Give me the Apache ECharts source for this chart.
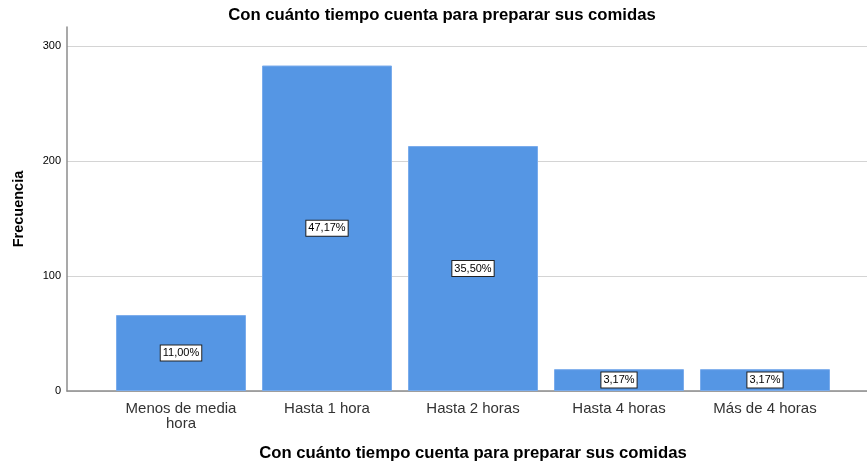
<!DOCTYPE html>
<html><head><meta charset="utf-8">
<script src="https://cdn.jsdelivr.net/npm/echarts@6/dist/echarts.min.js"></script>
<style>html,body{margin:0;padding:0;background:#fff}#c{width:867px;height:461px}</style>
</head><body><div id="c"></div>
<script>
const categories = ['Menos de media\nhora', 'Hasta 1 hora', 'Hasta 2 horas', 'Hasta 4 horas', 'Más de 4 horas'];
const frequencies = [66, 283, 213, 19, 19];
const percentLabels = ['11,00%', '47,17%', '35,50%', '3,17%', '3,17%'];
const yTicks = [0, 100, 200, 300];
const titleText = 'Con cuánto tiempo cuenta para preparar sus comidas';

const chart = echarts.init(document.getElementById('c'));
const font = 'Liberation Sans, Arial, sans-serif';
chart.setOption({
  animation: false,
  title: [{
    text: titleText, left: 437, top: 2, textAlign: 'center',
    textStyle: {fontFamily: font, fontSize: 16.7, fontWeight: 'bold', color: '#000'}
  }],
  grid: [
    {left: 67, right: 0, top: 27, bottom: 70, containLabel: false, outerBoundsMode: 'none'},
    {left: 108, right: 29, top: 27, bottom: 70, containLabel: false, outerBoundsMode: 'none'}
  ],
  xAxis: [
    {gridIndex: 0, type: 'value', min: 0, max: 1, show: true,
     axisLine: {show: true, lineStyle: {color: '#8c8c8c', width: 1.5}},
     axisTick: {show: false}, axisLabel: {show: false}, splitLine: {show: false},
     name: titleText, nameLocation: 'middle', nameGap: 54,
     nameTextStyle: {fontFamily: font, fontSize: 16.7, fontWeight: 'bold', color: '#000', padding: [0, 0, 0, 12]}},
    {gridIndex: 1, type: 'category', data: categories,
     axisLine: {show: false}, axisTick: {show: false},
     axisLabel: {fontFamily: font, fontSize: 15, color: '#333', lineHeight: 15, margin: 10, interval: 0}}
  ],
  yAxis: [
    {gridIndex: 0, type: 'value', min: 0, max: 316.5,
     axisLine: {show: true, lineStyle: {color: '#8c8c8c', width: 1.5}},
     axisTick: {show: false, customValues: yTicks},
     axisLabel: {fontFamily: font, fontSize: 11, color: '#000', margin: 6,
       customValues: yTicks},
     splitLine: {show: true, lineStyle: {color: '#d4d4d4', width: 1}},
     name: 'Frecuencia', nameLocation: 'middle', nameGap: 41, nameRotate: 90,
     nameTextStyle: {fontFamily: font, fontSize: 14.5, fontWeight: 'bold', color: '#000'}},
    {gridIndex: 1, type: 'value', min: 0, max: 316.5, show: false}
  ],
  series: [{
    type: 'bar', xAxisIndex: 1, yAxisIndex: 1, data: frequencies, barWidth: 130,
    itemStyle: {color: '#5596e4', borderColor: '#7aacec', borderWidth: 1},
    label: {show: true, position: 'inside',
      formatter: p => percentLabels[p.dataIndex],
      fontFamily: font, fontSize: 11, color: '#000',
      backgroundColor: '#fff', borderColor: '#222', borderWidth: 1, padding: [2, 2, 2, 2]}
  }]
});
</script></body></html>
